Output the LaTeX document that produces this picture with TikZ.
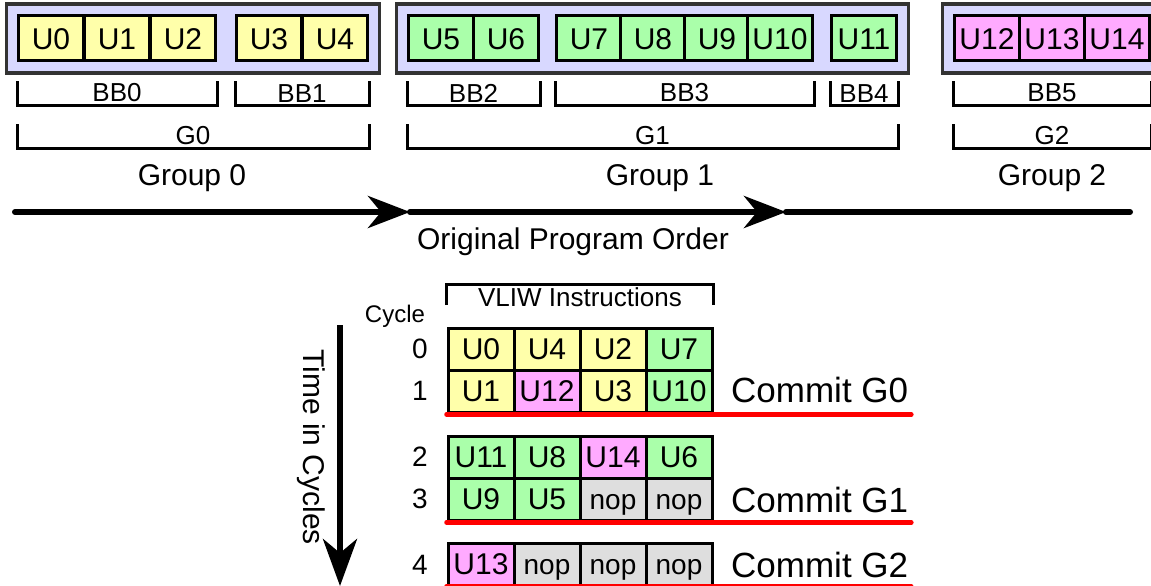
\documentclass[tikz,border=0pt]{standalone}
\usepackage{fontspec}
\setmainfont{Liberation Sans}
\usetikzlibrary{arrows.meta, fit, backgrounds}

\definecolor{cellyel}{RGB}{255,255,170}
\definecolor{cellgrn}{RGB}{170,255,170}
\definecolor{cellpnk}{RGB}{255,170,255}
\definecolor{cellgry}{RGB}{222,222,222}
\definecolor{grpfill}{RGB}{216,216,255}

\newcommand{\fsz}[1]{\fontsize{#1}{#1}\selectfont}

% bracket under a run of cells: name, first cell, last cell, top y, bottom y, text
\newcommand{\brkt}[6]{%
  \draw[brk] (#2.west |- 0,#4) -- (#2.west |- 0,#5) -- node[brklbl] (#1) {#6} (#3.east |- 0,#5) -- (#3.east |- 0,#4);}

\tikzset{
  cell/.style={draw=black, line width=3pt, inner sep=0pt, text height=21.5pt, text depth=0pt, font=\fsz{30}},
  ucell/.style={cell, minimum width=65pt, minimum height=45pt},
  tcell/.style={cell, minimum width=66pt, minimum height=42pt},
  yel/.style={fill=cellyel},
  grn/.style={fill=cellgrn},
  pnk/.style={fill=cellpnk},
  nop/.style={fill=cellgry, font=\fsz{28}},
  grpbox/.style={draw=black!80, line width=3.5pt, fill=grpfill, inner sep=10.5pt},
  brk/.style={line width=3pt},
  brklbl/.style={anchor=south, inner sep=1.5pt, font=\fsz{26}},
  grplbl/.style={inner sep=2pt, font=\fsz{30}},
  prog/.style={line width=6pt, line cap=round},
  cmtlbl/.style={anchor=west, inner sep=3pt, font=\fsz{35}},
  cmtline/.style={red, line width=4.5pt, line cap=round}
}

\begin{document}
\begin{tikzpicture}[x=1pt, y=-1pt]
    \useasboundingbox (0,0) rectangle (1151,586);

    % Program order: the basic blocks
    \foreach \n/\x/\s in {0/51/yel, 1/117/yel, 2/183/yel, 3/269/yel, 4/335/yel,
                          5/441/grn, 6/506/grn, 7/589/grn, 8/653/grn, 9/717/grn, 10/780/grn, 11/864/grn,
                          12/987/pnk, 13/1052/pnk, 14/1117/pnk}
        \node[ucell, \s] (u\n) at (\x, 38.5) {U\n};

    \begin{scope}[on background layer]
        \node[grpbox, fit=(u0)(u4)] (g0box) {};
        \node[grpbox, fit=(u5)(u11)] (g1box) {};
        \node[grpbox, fit=(u12)(u14)] (g2box) {};
    \end{scope}

    \brkt{bb0}{u0}{u2}{81}{105}{BB0}
    \brkt{bb1}{u3}{u4}{81}{105}{BB1}
    \brkt{bb2}{u5}{u6}{81}{105}{BB2}
    \brkt{bb3}{u7}{u10}{81}{105}{BB3}
    \brkt{bb4}{u11}{u11}{81}{105}{BB4}
    \brkt{bb5}{u12}{u14}{81}{105}{BB5}

    \brkt{g0}{u0}{u4}{124}{148}{G0}
    \brkt{g1}{u5}{u11}{124}{148}{G1}
    \brkt{g2}{u12}{u14}{124}{148}{G2}

    \node[grplbl] (grp0) at (192,178) {Group 0};
    \node[grplbl] (grp1) at (660,178) {Group 1};
    \node[grplbl] (grp2) at (1052,178) {Group 2};

    % Order arrow
    \coordinate (po0) at (15,212);
    \coordinate (po1) at (410,212);
    \coordinate (po2) at (786,212);
    \coordinate (po3) at (1130,212);
    \draw[prog, -{Stealth[length=42pt, width=32pt, inset=13pt]}] (po0) -- (po1);
    \draw[prog, -{Stealth[length=42pt, width=32pt, inset=13pt]}] (po1) -- (po2);
    \draw[prog] (po2) -- (po3);
    \node[grplbl] (order) at (573,242) {Original Program Order};

    % VLIW schedule
    \foreach \t/\s [count=\i from 0] in {U0/yel, U4/yel, U2/yel, U7/grn}
        \node[tcell, \s] (r0c\i) at (481+66*\i, 349) {\t};
    \foreach \t/\s [count=\i from 0] in {U1/yel, U12/pnk, U3/yel, U10/grn}
        \node[tcell, \s] (r1c\i) at (481+66*\i, 391) {\t};
    \foreach \t/\s [count=\i from 0] in {U11/grn, U8/grn, U14/pnk, U6/grn}
        \node[tcell, \s] (r2c\i) at (481+66*\i, 457) {\t};
    \foreach \t/\s [count=\i from 0] in {U9/grn, U5/grn, nop/nop, nop/nop}
        \node[tcell, \s] (r3c\i) at (481+66*\i, 499) {\t};
    \foreach \t/\s [count=\i from 0] in {U13/pnk, nop/nop, nop/nop, nop/nop}
        \node[tcell, \s] (r4c\i) at (481+66*\i, 564) {\t};

    \draw[brk] (r0c0.west |- 0,305) -- (r0c0.west |- 0,284) -- node[anchor=north, inner sep=2.5pt, font=\fsz{26}] (vliw) {VLIW Instructions} (r0c3.east |- 0,284) -- (r0c3.east |- 0,305);

    \node[font=\fsz{24}] (cyc) at (395,316) {Cycle};
    \foreach \c/\y in {0/349, 1/391, 2/457, 3/499, 4/565}
        \node[font=\fsz{28}] (n\c) at (420,\y) {\c};

    % Commit points
    \node[cmtlbl] (cm0) at (728,390) {Commit G0};
    \node[cmtlbl] (cm1) at (728,500) {Commit G1};
    \node[cmtlbl] (cm2) at (728,565) {Commit G2};
    \draw[cmtline] ([yshift=-1pt]r1c0.south west) -- ([yshift=-1pt]r1c0.south west -| cm0.east);
    \draw[cmtline] ([yshift=-1pt]r3c0.south west) -- ([yshift=-1pt]r3c0.south west -| cm1.east);
    \draw[cmtline] (r4c0.south west) -- (r4c0.south west -| cm2.east);

    % Time arrow
    \coordinate (t0) at (340,325);
    \coordinate (t1) at (340,586);
    \draw[line width=6pt, -{Stealth[length=47pt, width=34pt, inset=14pt]}] (t0) -- (t1);
    \node[rotate=-90, font=\fsz{30}] (tic) at (311,447) {Time in Cycles};

\end{tikzpicture}
\end{document}
